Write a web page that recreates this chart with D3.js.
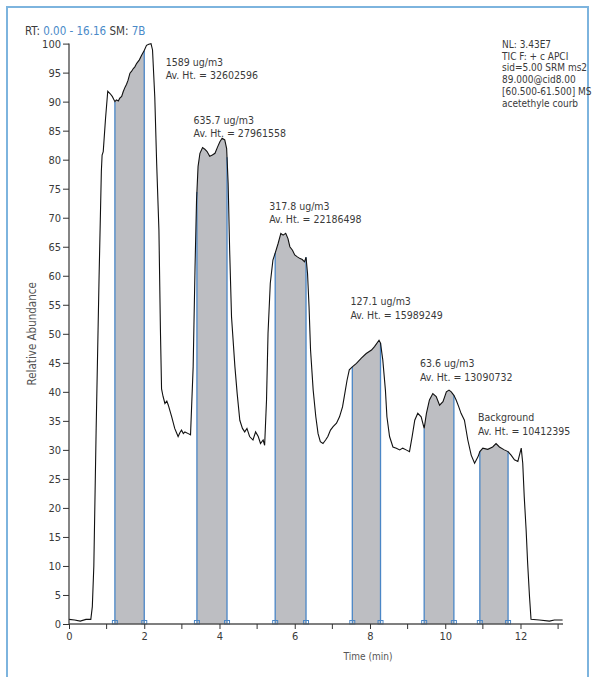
<!DOCTYPE html>
<html><head><meta charset="utf-8">
<script src="https://cdn.jsdelivr.net/npm/d3@7"></script>
<style>
html,body{margin:0;padding:0;background:#fff;}
svg{display:block;}
text{font-family:'Liberation Sans Narrow','DejaVu Sans Condensed','Arial Narrow',sans-serif;}
</style></head><body>
<div id="chart"></div>
<script>
// ---- data ----
const times = [0,0.15,0.3,0.45,0.58,0.62,0.66,0.72,0.80,0.86,0.88,0.91,0.97,1.03,1.09,1.15,1.22,1.26,1.31,1.35,1.40,1.44,1.49,1.53,1.57,1.62,1.66,1.71,1.75,1.80,1.87,1.93,2.00,2.06,2.12,2.18,2.22,2.28,2.33,2.39,2.43,2.46,2.50,2.55,2.60,2.64,2.73,2.81,2.90,2.95,2.99,3.04,3.08,3.17,3.23,3.30,3.35,3.39,3.43,3.48,3.55,3.61,3.67,3.74,3.81,3.88,3.95,4.01,4.07,4.14,4.19,4.23,4.27,4.32,4.41,4.47,4.54,4.61,4.67,4.73,4.80,4.89,4.96,5.03,5.09,5.16,5.20,5.25,5.29,5.35,5.42,5.48,5.56,5.63,5.69,5.76,5.82,5.87,5.94,6.00,6.06,6.13,6.20,6.26,6.30,6.34,6.38,6.42,6.49,6.56,6.62,6.68,6.75,6.82,6.88,6.95,7.02,7.11,7.19,7.27,7.33,7.39,7.45,7.53,7.64,7.77,7.90,8.04,8.12,8.24,8.28,8.34,8.41,8.45,8.52,8.61,8.70,8.79,8.87,8.96,9.05,9.12,9.19,9.27,9.36,9.44,9.50,9.58,9.67,9.76,9.85,9.94,10.03,10.10,10.16,10.23,10.29,10.36,10.42,10.51,10.60,10.69,10.78,10.87,10.92,11.00,11.13,11.26,11.35,11.44,11.57,11.67,11.75,11.84,11.93,12.02,12.06,12.10,12.15,12.19,12.24,12.28,12.5,12.77,12.9,13.12];
const abundance = [0.8,0.7,0.5,0.8,0.8,3,10,33,60,78,80.8,81.4,87,91.8,91.4,90.9,90.0,90.3,90.1,90.6,90.9,91.7,92.5,93.0,93.7,94.9,95.2,95.7,96.0,96.6,97.2,98.0,98.8,99.7,99.9,100,98.9,90.8,79.4,67.9,50.6,40.5,39.2,38.0,38.4,37.7,35.7,33.7,32.3,33.0,33.4,32.8,33.1,32.8,32.6,44.3,61.5,73,78.8,81.1,82.1,81.8,81.4,80.6,80.8,81.1,82.2,83.1,83.7,83.4,81.9,75.9,64.4,52.9,44.3,39.7,35.1,33.7,33.1,33.7,32.3,31.7,33.1,32.3,31.1,31.7,30.8,38.6,50.1,58.7,62.7,63.9,65.6,67.3,67.0,67.3,66.4,65.0,64.4,63.6,63.3,63.0,62.8,62.4,63.2,60.4,54.7,47.2,40.3,35.7,32.8,31.4,31.1,31.7,32.3,33.4,34.0,34.6,35.7,37.4,39.7,42.0,43.8,44.3,44.9,45.8,46.6,47.2,47.8,48.9,48.4,45.5,40.3,35.7,32.3,30.5,30.3,30.0,30.3,30.0,29.7,32.3,35.1,36.3,35.7,33.7,36.3,38.6,39.7,39.2,37.7,38.3,40.0,40.3,40.0,39.4,38.6,37.4,36.3,35.1,31.7,29.1,27.7,28.8,29.7,30.3,30.1,30.5,31.1,30.5,30.0,29.7,29.1,28.3,28.0,30.3,27.7,21.9,16.2,10.5,4.7,0.8,0.7,0.5,0.7,0.7];
const regionStart = [1.22,3.40,5.48,7.53,9.44,10.92];
const regionEnd   = [2.00,4.20,6.30,8.28,10.23,11.67];
const labelConc   = ["1589 ug/m3","635.7 ug/m3","317.8 ug/m3","127.1 ug/m3","63.6 ug/m3","Background"];
const labelHeight = ["Av. Ht. = 32602596","Av. Ht. = 27961558","Av. Ht. = 22186498","Av. Ht. = 15989249","Av. Ht. = 13090732","Av. Ht. = 10412395"];
const labelPosT   = [2.57,3.31,5.32,7.48,9.33,10.87];
const labelPosV   = [96.2,86.2,71.4,54.9,44.2,34.9];
const yTicks = d3.range(0,101,5);
const xMajor = [0,2,4,6,8,10,12];
const xMinor = [1,3,5,7,9,11,13];
const infoLines = ["NL: 3.43E7","TIC F: + c APCI","sid=5.00  SRM ms2","89.000@cid8.00","[60.500-61.500]  MS","acetethyle courb"];

// ---- drawing ----
const W=595,H=677;
const svg=d3.select("#chart").append("svg").attr("width",W).attr("height",H);
const x=d3.scaleLinear().domain([0,13.13]).range([69,563]);
const y=d3.scaleLinear().domain([0,100]).range([624,43.6]);
const data=times.map((t,i)=>({t,v:abundance[i]}));
const textCol="#3a3a3a", blue="#4a86c6";

svg.append("rect").attr("x",7).attr("y",7).attr("width",581).attr("height",700)
  .attr("fill","none").attr("stroke","#7db4de").attr("stroke-width",2);

function interp(t){
  for(let i=0;i<data.length-1;i++){
    if(t>=data[i].t && t<=data[i+1].t){
      const f=(t-data[i].t)/(data[i+1].t-data[i].t);
      return data[i].v+f*(data[i+1].v-data[i].v);
    }
  }
  return 0;
}
const area=d3.area().x(d=>x(d.t)).y0(y(0)).y1(d=>y(d.v));
regionStart.forEach((a,k)=>{
  const b=regionEnd[k];
  const pts=[{t:a,v:interp(a)}].concat(data.filter(d=>d.t>a&&d.t<b)).concat([{t:b,v:interp(b)}]);
  svg.append("path").attr("d",area(pts)).attr("fill","#bdbec2");
  [a,b].forEach(tt=>{
    svg.append("line").attr("x1",x(tt)).attr("x2",x(tt)).attr("y1",y(0)).attr("y2",y(interp(tt)))
      .attr("stroke",blue).attr("stroke-width",1.3);
    svg.append("rect").attr("x",x(tt)-2.5).attr("y",y(0)-3.5).attr("width",5).attr("height",3.5)
      .attr("fill","none").attr("stroke",blue).attr("stroke-width",1);
  });
});

// trace
svg.append("path").datum(data).attr("d",d3.line().x(d=>x(d.t)).y(d=>y(d.v)))
  .attr("fill","none").attr("stroke","#111").attr("stroke-width",1.1);

// y axis
const gy=svg.append("g").attr("transform",`translate(${x(0)},0)`)
  .call(d3.axisLeft(y).tickValues(yTicks).tickSize(6).tickPadding(2).tickFormat(d3.format("d")));
gy.select(".domain").attr("stroke","#333").attr("stroke-width",1.2).attr("d",`M0,${y(100)}V${y(0)}`);
gy.selectAll(".tick line").attr("stroke","#333");
gy.selectAll(".tick text").attr("fill",textCol).style("font-size","11px")
  .style("font-family","'Liberation Sans Narrow','DejaVu Sans Condensed',sans-serif");

// x axis
const gx=svg.append("g").attr("transform",`translate(0,${y(0)})`)
  .call(d3.axisBottom(x).tickValues(xMajor).tickSize(5).tickPadding(3).tickFormat(d3.format("d")));
gx.select(".domain").attr("stroke","#555").attr("stroke-width",1.3).attr("d",`M${x(0)},0H${x(13.13)}`);
gx.selectAll(".tick line").attr("stroke","#333");
gx.selectAll(".tick text").attr("fill",textCol).style("font-size","11px")
  .style("font-family","'Liberation Sans Narrow','DejaVu Sans Condensed',sans-serif");
gx.selectAll(".minor").data(xMinor).enter().append("line")
  .attr("x1",d=>x(d)).attr("x2",d=>x(d)).attr("y1",0).attr("y2",5).attr("stroke","#333");

// axis titles
svg.append("text").attr("transform",`translate(36,${(y(0)+y(100))/2}) rotate(-90)`)
  .attr("text-anchor","middle").attr("fill","#555").style("font-size","11.5px").text("Relative Abundance");
svg.append("text").attr("x",368).attr("y",660).attr("text-anchor","middle").attr("fill","#555")
  .style("font-size","10px").text("Time (min)");

// header
const hdr=svg.append("text").attr("x",25).attr("y",35).style("font-size","11.5px").attr("fill",textCol);
hdr.append("tspan").text("RT: ");
hdr.append("tspan").attr("fill","#4a8ac8").text("0.00 - 16.16");
hdr.append("tspan").text("  SM: ");
hdr.append("tspan").attr("fill","#4a8ac8").text("7B");

// info block
infoLines.forEach((s,i)=>{
  svg.append("text").attr("x",502).attr("y",48+i*11.7).attr("fill",textCol)
    .style("font-size","10px").text(s);
});

// peak labels
labelConc.forEach((s,i)=>{
  const px=x(labelPosT[i]), py=y(labelPosV[i]);
  svg.append("text").attr("x",px).attr("y",py).attr("fill",textCol).style("font-size","10.5px").text(s);
  svg.append("text").attr("x",px).attr("y",py+13.5).attr("fill",textCol).style("font-size","10.5px").text(labelHeight[i]);
});
</script>
</body></html>
